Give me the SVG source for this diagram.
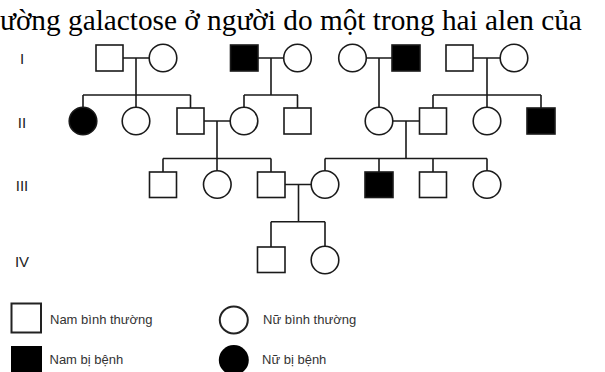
<svg xmlns="http://www.w3.org/2000/svg" width="605" height="372" viewBox="0 0 605 372">
<style>
.sq{fill:#fff;stroke:#1a1a1a;stroke-width:1.6}
.sqf{fill:#000;stroke:#1a1a1a;stroke-width:1.6}
.ci{fill:#fff;stroke:#1a1a1a;stroke-width:1.6}
.cif{fill:#000;stroke:#1a1a1a;stroke-width:1.6}
.ln{fill:none;stroke:#1a1a1a;stroke-width:1.6}
.gen{font-family:"Liberation Sans",Arial,sans-serif;font-size:15px;fill:#222;text-anchor:middle}
.lg{font-family:"Liberation Sans",Arial,sans-serif;font-size:13px;fill:#333}
.title{font-family:"Liberation Serif","Times New Roman",serif;font-size:29.3px;fill:#000}
</style>
<rect width="605" height="372" fill="#fff"/>
<text class="title" x="0" y="30">ường galactose ở người do một trong hai alen của</text>
<g id="gen-labels">
<text class="gen" x="22" y="64">I</text>
<text class="gen" x="22" y="128">II</text>
<text class="gen" x="22" y="191">III</text>
<text class="gen" x="22" y="267">IV</text>
</g>
<g id="connectors">
<path class="ln" d="M123 58H149M136 58V95M83 95H190.5M83 95V107M136 95V107M190.5 95V108"/>
<path class="ln" d="M258 58H284M271 58V95M244 95H298M244 95V107M297.5 95V108"/>
<path class="ln" d="M366 58H392M379 58V107"/>
<path class="ln" d="M473 58H500M487 58V95M433 95H541M433 95V108M487 95V107M541 95V108"/>
<path class="ln" d="M204 121H230M217 121V158.5M163 158.5H271M163 158.5V172M217 158.5V171M271 158.5V172"/>
<path class="ln" d="M393 121H419M406 121V158.5M325 158.5H487M325 158.5V171M379 158.5V172M433 158.5V172M487 158.5V171"/>
<path class="ln" d="M285 184.5H311M298.5 184.5V221.7M271 221.7H325M271 221.7V247M325 221.7V246"/>
</g>
<g id="I-1"><rect class="sq" x="96" y="45" width="27" height="26"/></g>
<g id="I-2"><circle class="ci" cx="163" cy="58" r="13.8"/></g>
<g id="I-3"><rect class="sqf" x="230.5" y="45" width="27.5" height="26"/></g>
<g id="I-4"><circle class="ci" cx="297.5" cy="58" r="13.8"/></g>
<g id="I-5"><circle class="ci" cx="352.5" cy="58" r="13.8"/></g>
<g id="I-6"><rect class="sqf" x="392" y="45" width="28" height="26"/></g>
<g id="I-7"><rect class="sq" x="446" y="45" width="27" height="26"/></g>
<g id="I-8"><circle class="ci" cx="514" cy="58" r="13.8"/></g>
<g id="II-1"><circle class="cif" cx="83" cy="121" r="13.8"/></g>
<g id="II-2"><circle class="ci" cx="136" cy="121" r="13.8"/></g>
<g id="II-3"><rect class="sq" x="177" y="108" width="27" height="26"/></g>
<g id="II-4"><circle class="ci" cx="244" cy="121" r="13.8"/></g>
<g id="II-5"><rect class="sq" x="284" y="108" width="27" height="26"/></g>
<g id="II-6"><circle class="ci" cx="379" cy="121" r="13.8"/></g>
<g id="II-7"><rect class="sq" x="419.5" y="108" width="27" height="26"/></g>
<g id="II-8"><circle class="ci" cx="487" cy="121" r="13.8"/></g>
<g id="II-9"><rect class="sqf" x="527" y="108" width="28" height="26"/></g>
<g id="III-1"><rect class="sq" x="149.5" y="172" width="27" height="25.5"/></g>
<g id="III-2"><circle class="ci" cx="217.3" cy="184.5" r="13.8"/></g>
<g id="III-3"><rect class="sq" x="257.5" y="172" width="27.5" height="25.5"/></g>
<g id="III-4"><circle class="ci" cx="325" cy="184.5" r="13.8"/></g>
<g id="III-5"><rect class="sqf" x="365" y="172" width="28" height="25.5"/></g>
<g id="III-6"><rect class="sq" x="419.5" y="172" width="27" height="25.5"/></g>
<g id="III-7"><circle class="ci" cx="487" cy="184.5" r="13.8"/></g>
<g id="IV-1"><rect class="sq" x="257.5" y="247" width="27.5" height="25.5"/></g>
<g id="IV-2"><circle class="ci" cx="325" cy="260" r="13.8"/></g>
<g id="legend">
<rect x="11.5" y="303.5" width="29.5" height="29" fill="#fff" stroke="#222" stroke-width="2"/>
<text class="lg" x="50" y="323.5">Nam bình thường</text>
<rect x="11" y="346" width="31" height="28" fill="#000"/>
<text class="lg" x="49.5" y="364">Nam bị bệnh</text>
<ellipse cx="233.8" cy="320" rx="14" ry="13.5" fill="#fff" stroke="#222" stroke-width="2"/>
<text class="lg" x="263" y="323.5">Nữ bình thường</text>
<ellipse cx="233.8" cy="360" rx="15" ry="15" fill="#000"/>
<text class="lg" x="262" y="364">Nữ bị bệnh</text>
</g>
</svg>
